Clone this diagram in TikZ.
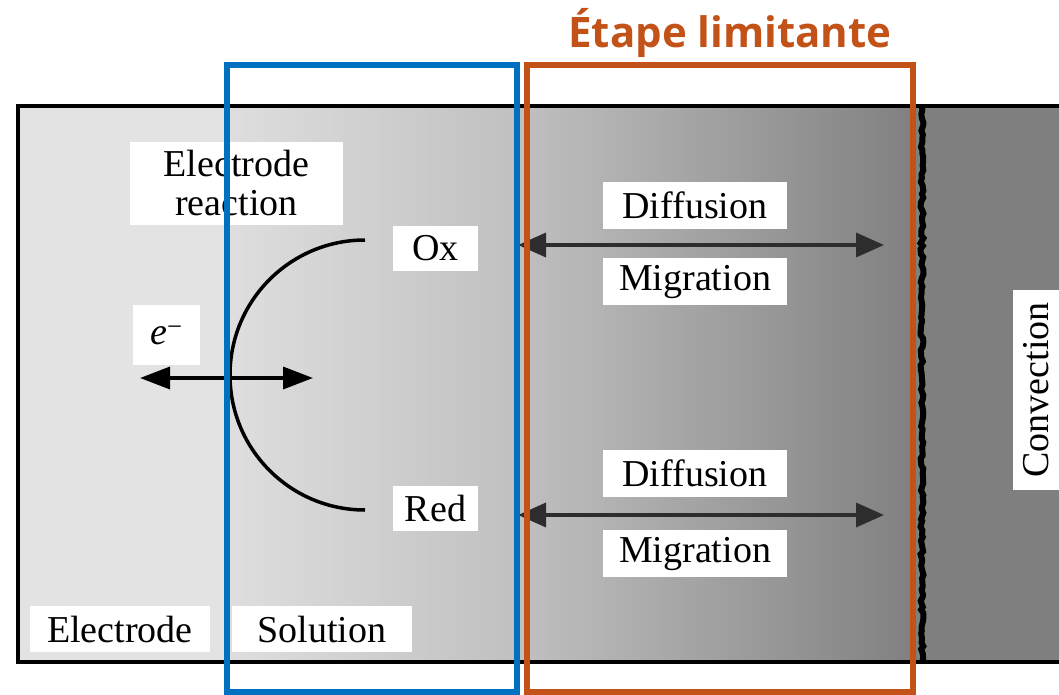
\documentclass[tikz,border=0pt]{standalone}
\usepackage{fontspec}
\setmainfont{Liberation Serif}
\newfontfamily\titlefont{Open Sans}
\usetikzlibrary{positioning,arrows.meta,decorations.pathmorphing}
\definecolor{etapeorange}{RGB}{194,82,24}
\definecolor{solblue}{RGB}{0,112,192}
\definecolor{fluxgray}{RGB}{45,45,45}
\definecolor{elecgray}{RGB}{227,227,227}
\definecolor{midgray}{RGB}{192,192,192}
\definecolor{bulkgray}{RGB}{127,127,127}

\begin{document}
\begin{tikzpicture}[x=1pt,y=-1pt,
  lbl/.style={fill=white, inner sep=0pt, font=\fontsize{38}{39}\selectfont},
  flux/.style={{Triangle[length=28pt,width=24pt]}-{Triangle[length=28pt,width=24pt]}, line width=3.5pt, fluxgray},
  zone/.style={line width=6pt}]
\useasboundingbox (0,0) rectangle (1059,695);

% shaded cell
\fill[elecgray] (18,106) rectangle (225,662);
\shade[left color=elecgray!98!black, right color=midgray] (225,106) rectangle (520,662);
\shade[left color=midgray, right color=bulkgray] (520,106) rectangle (922,662);
\fill[bulkgray] (922,106) rectangle (1059,662);
\draw[line width=3.5pt] (1059,106) -- (18,106) -- (18,662) -- (1059,662);
\draw[line width=1.5pt] (225,106) -- (225,662);
\pgfmathsetseed{7}
\draw[line width=6pt, decorate, decoration={random steps, segment length=4pt, amplitude=1.5pt}] (922,106) -- (922,662);

% labels
\node[lbl, minimum width=213pt, minimum height=83pt, align=center] (reac) at (236.5,183.5) {Electrode\\reaction};
\node[lbl, minimum width=67pt, minimum height=60pt] (eminus) at (166.5,335) {\textit{e}\textsuperscript{−}};
\node[lbl, minimum width=85pt, minimum height=45pt] (ox) at (435.5,248.5) {Ox};
\node[lbl, minimum width=85pt, minimum height=45pt] (red) at (435.5,508) {Red};
\node[lbl, minimum width=184pt, minimum height=47pt] (diffox) at (695,205.5) {Diffusion};
\node[lbl, minimum width=184pt, minimum height=47pt, below=29pt of diffox] (migox) {Migration};
\node[lbl, minimum width=184pt, minimum height=47pt] (diffred) at (695,473.5) {Diffusion};
\node[lbl, minimum width=184pt, minimum height=47pt, below=33pt of diffred] (migred) {Migration};
\node[lbl, minimum width=180pt, minimum height=46pt] (electrode) at (120,629) {Electrode};
\node[lbl, minimum width=180pt, minimum height=46pt] (solution) at (322,629) {Solution};
\node[lbl, rotate=90, minimum width=200pt, minimum height=47pt] (conv) at (1036,390) {Convection};

% transfer
\coordinate (arctop) at (365,240);
\draw[line width=3.5pt] (arctop) arc[start angle=-90, end angle=-270, radius=135];
\coordinate (eleft) at (140,378);
\coordinate (eright) at (313,378);
\draw[{Triangle[length=30pt,width=22pt]}-{Triangle[length=30pt,width=22pt]}, line width=3.5pt] (eleft) -- (eright);
\coordinate (oxin) at (518,245);
\coordinate (oxout) at (884,245);
\draw[flux] (oxin) -- (oxout);
\coordinate (redin) at (518,515);
\coordinate (redout) at (884,515);
\draw[flux] (redin) -- (redout);

% highlighted zones
\draw[zone, solblue] (227,65) rectangle (517,692);
\draw[zone, etapeorange] (527,65) rectangle (913,692);
\node[font=\titlefont\bfseries\fontsize{42}{44}\selectfont, text=etapeorange] (titre) at (730,33) {Étape limitante};
\end{tikzpicture}
\end{document}
